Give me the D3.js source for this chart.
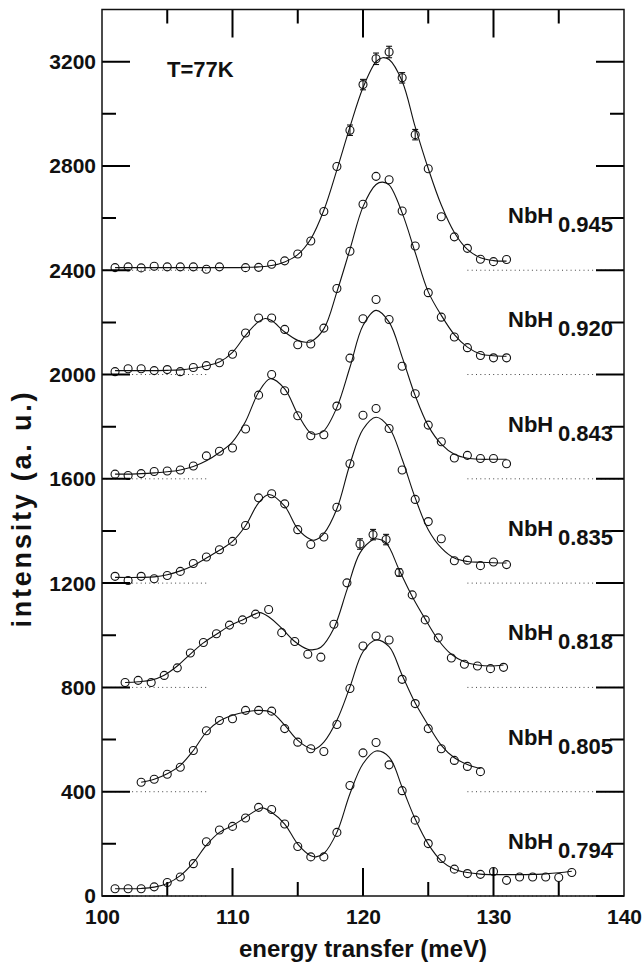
<!DOCTYPE html>
<html>
<head>
<meta charset="utf-8">
<script src="https://cdn.jsdelivr.net/npm/d3@7"></script>
<style>
  body { margin: 0; background: #fff; }
  text { font-family: "Liberation Sans", Arial, Helvetica, sans-serif; font-weight: bold; fill: #111; }
</style>
</head>
<body>
<svg id="chart" width="643" height="967"></svg>
<script>
// sample names and their vertical offsets (a. u.)
const sampleNames = ["0.945", "0.920", "0.843", "0.835", "0.818", "0.805", "0.794"];
const sampleOffsets = [2400, 2000, 1600, 1200, 800, 400, 0];

// measured points [energy meV, intensity]
const pts945 = [[101,2410],[102,2413],[103,2409],[104,2415],[105,2413],[106,2413],[107,2413],[108,2404],[109,2413],
  [111,2410],[112,2411],[113,2423],[114,2436],[115,2462],[116,2512],[117,2625],[118,2798],[119,2937],[120,3112],
  [121,3211],[122,3237],[123,3138],[124,2920],[125,2789],[126,2605],[127,2528],[128,2484],[129,2442],[130,2433],[131,2441]];
const pts920 = [[101,2011],[102,2022],[103,2022],[104,2015],[105,2019],[106,2011],[107,2027],[108,2034],[109,2045],
  [110,2078],[111,2159],[112,2217],[113,2217],[114,2173],[115,2114],[116,2117],[117,2178],[118,2330],[119,2473],
  [120,2653],[121,2760],[122,2747],[123,2627],[124,2493],[125,2314],[126,2220],[127,2144],[128,2103],[129,2073],[130,2064],[131,2064]];
const pts843 = [[101,1618],[102,1613],[103,1620],[104,1628],[105,1630],[106,1634],[107,1649],[108,1688],[109,1706],
  [110,1718],[111,1791],[112,1921],[113,2000],[114,1938],[115,1842],[116,1765],[117,1769],[118,1879],[119,2063],
  [120,2214],[121,2288],[122,2211],[123,2032],[124,1926],[125,1806],[126,1742],[127,1680],[128,1690],[129,1678],[130,1678],[131,1658]];
const pts835 = [[101,1226],[102,1210],[103,1226],[104,1217],[105,1229],[106,1245],[107,1275],[108,1300],[109,1328],
  [110,1360],[111,1421],[112,1527],[113,1543],[114,1504],[115,1405],[116,1348],[117,1377],[118,1491],[119,1658],
  [120,1844],[121,1870],[122,1793],[123,1634],[124,1521],[125,1436],[126,1370],[127,1286],[128,1288],[129,1267],[130,1281],[131,1271]];
const pts818 = [[101.77,819],[102.77,827],[103.77,819],[104.77,846],[105.77,875],[106.77,932],[107.77,972],[108.77,1006],
  [109.77,1039],[110.77,1059],[111.77,1081],[112.77,1099],[113.77,1010],[114.77,976],[115.77,927],[116.77,916],
  [117.77,1042],[118.77,1201],[119.77,1350],[120.77,1386],[121.77,1367],[122.77,1241],[123.77,1155],[124.77,1059],
  [125.77,990],[126.77,913],[127.77,889],[128.77,882],[129.77,872],[130.77,877]];
const pts805 = [[103,436],[104,448],[105,467],[106,494],[107,558],[108,634],[109,673],[110,680],[111,712],[112,712],
  [113,709],[114,642],[115,590],[116,565],[117,554],[118,658],[119,796],[120,959],[121,997],[122,982],[123,831],
  [124,738],[125,642],[126,565],[127,520],[128,497],[129,477]];
const pts794 = [[101,28],[102,28],[103,28],[104,35],[105,52],[106,73],[107,124],[108,208],[109,253],[110,267],
  [111,299],[112,340],[113,332],[114,276],[115,190],[116,150],[117,150],[118,244],[119,424],[120,549],[121,589],
  [122,503],[123,404],[124,291],[125,201],[126,144],[127,103],[128,86],[129,83],[130,94],[131,60],[132,73],
  [133,73],[134,73],[135,71],[136,90]];

// fitted curves [energy meV, intensity]
const fit945 = [[101,2410],[104,2410],[107,2410],[110,2410],[111,2411],[112,2413],[113,2418],[114,2432],[115,2460],
  [116,2520],[117,2630],[118,2785],[119,2950],[120,3100],[121,3200],[121.5,3215],[122,3208],[123,3125],[124,2950],
  [125,2790],[126,2650],[127,2545],[128,2480],[129,2448],[130,2437],[131,2435]];
const fit920 = [[101,2015],[103,2015],[105,2016],[106,2018],[107,2024],[108,2034],[109,2048],[110,2085],[111,2150],
  [112,2203],[112.5,2215],[113,2207],[114,2163],[115,2131],[115.6,2124],[116,2126],[117,2175],[118,2317],[119,2480],
  [120,2644],[121,2729],[121.5,2738],[122,2727],[123,2620],[124,2468],[125,2317],[126,2227],[127,2153],[128,2105],
  [129,2079],[130,2072],[131,2070]];
const fit843 = [[101,1618],[102,1618],[103,1620],[104,1623],[105,1627],[106,1634],[107,1647],[108,1669],[109,1701],
  [110,1742],[111,1820],[112,1932],[112.9,1984],[114,1945],[115,1848],[116,1775],[116.5,1772],[117,1784],[118,1874],
  [119,2028],[120,2188],[121,2246],[122,2201],[123,2067],[124,1919],[125,1803],[126,1733],[127,1694],[128,1679],
  [129,1675],[130,1675],[131,1675]];
const fit835 = [[101,1222],[103,1222],[104,1224],[105,1232],[106,1247],[107,1268],[108,1296],[109,1326],[110,1360],
  [111,1420],[112,1508],[112.8,1540],[114,1495],[115,1408],[116,1367],[116.3,1365],[117,1390],[118,1485],[119,1656],
  [120,1790],[121,1836],[122,1797],[123,1675],[124,1527],[125,1405],[126,1335],[127,1296],[128,1283],[129,1280],
  [130,1278],[131,1277]];
const fit818 = [[101.77,819],[102.77,822],[103.77,828],[104.77,847],[105.77,882],[106.77,928],[107.77,971],
  [108.77,1004],[109.77,1036],[110.77,1059],[111.77,1082],[112.1,1087],[112.77,1071],[113.77,1027],[114.77,976],
  [115.77,946],[116.1,944],[116.77,954],[117.77,1027],[118.77,1174],[119.77,1316],[120.77,1367],[121,1370],
  [121.77,1354],[122.77,1251],[123.77,1149],[124.77,1062],[125.77,982],[126.77,927],[127.77,898],[128.77,886],
  [129.77,882],[130.77,886]];
const fit805 = [[103,436],[104,448],[105,469],[106,501],[107,558],[108,629],[109,671],[110,693],[111,706],[112,712],
  [113,704],[114,655],[115,597],[116,565],[116.3,563],[117,590],[118,674],[119,802],[120,937],[121,982],[122,956],
  [123,847],[124,740],[125,655],[126,578],[127,530],[128,504],[129,488]];
const fit794 = [[101,28],[102,28],[103,29],[104,34],[105,48],[106,78],[107,128],[108,195],[109,244],[110,270],
  [111,302],[112,334],[112.3,338],[113,321],[114,276],[115,199],[116,154],[116.4,150],[117,163],[118,244],[119,392],
  [120,507],[121,556],[122,533],[123,417],[124,295],[125,199],[126,135],[127,103],[128,90],[129,84],[130,82],
  [131,82],[132,82],[133,83],[134,85],[135,89],[136,95]];

// error bars [energy meV, +/- error]
const err945 = [[119,20],[120,20],[121,22],[122,22],[123,20],[124,20]];
const err818 = [[119.77,20],[120.77,20],[121.77,20],[122.77,14]];

const xMajor = [100, 110, 120, 130, 140];
const xMinor = [105, 115, 125, 135];
const yMajor = d3.range(0, 3201, 400);
const yMinor = d3.range(200, 3001, 400);

const series = [
  { name: sampleNames[0], offset: sampleOffsets[0], pts: pts945, fit: fit945, err: err945 },
  { name: sampleNames[1], offset: sampleOffsets[1], pts: pts920, fit: fit920, err: [] },
  { name: sampleNames[2], offset: sampleOffsets[2], pts: pts843, fit: fit843, err: [] },
  { name: sampleNames[3], offset: sampleOffsets[3], pts: pts835, fit: fit835, err: [] },
  { name: sampleNames[4], offset: sampleOffsets[4], pts: pts818, fit: fit818, err: err818 },
  { name: sampleNames[5], offset: sampleOffsets[5], pts: pts805, fit: fit805, err: [] },
  { name: sampleNames[6], offset: sampleOffsets[6], pts: pts794, fit: fit794, err: [] }
];

const svg = d3.select("#chart");
const plotLeft = 102, plotRight = 624, plotTop = 9.5, plotBottom = 896;

const x = d3.scaleLinear().domain([100, 140]).range([plotLeft, plotRight]);
const y = d3.scaleLinear().domain([0, 3400]).range([plotBottom, plotTop]);

// dotted baselines
const baseG = svg.append("g");
series.forEach(s => {
  [[100, 108], [128, 140]].forEach(([a, b]) => {
    baseG.append("line")
      .attr("x1", x(a)).attr("x2", x(b))
      .attr("y1", y(s.offset)).attr("y2", y(s.offset))
      .attr("stroke", "#444").attr("stroke-width", 1)
      .attr("stroke-dasharray", "1,3.3");
  });
});

// fitted curves
const line = d3.line()
  .x(d => x(d[0]))
  .y(d => y(d[1]))
  .curve(d3.curveCatmullRom.alpha(0.5));

const curveG = svg.append("g");
series.forEach(s => {
  curveG.append("path")
    .datum(s.fit)
    .attr("d", line)
    .attr("fill", "none")
    .attr("stroke", "#111")
    .attr("stroke-width", 1.1);
});

// error bars
const errG = svg.append("g").attr("stroke", "#111").attr("stroke-width", 1.1);
series.forEach(s => {
  s.err.forEach(([e, dv]) => {
    const p = s.pts.find(d => Math.abs(d[0] - e) < 0.01);
    if (!p) return;
    errG.append("line").attr("x1", x(e)).attr("x2", x(e)).attr("y1", y(p[1] - dv)).attr("y2", y(p[1] + dv));
    errG.append("line").attr("x1", x(e) - 3).attr("x2", x(e) + 3).attr("y1", y(p[1] - dv)).attr("y2", y(p[1] - dv));
    errG.append("line").attr("x1", x(e) - 3).attr("x2", x(e) + 3).attr("y1", y(p[1] + dv)).attr("y2", y(p[1] + dv));
  });
});

// data circles
const dotG = svg.append("g");
series.forEach(s => {
  dotG.selectAll(null)
    .data(s.pts)
    .join("circle")
    .attr("cx", d => x(d[0]))
    .attr("cy", d => y(d[1]))
    .attr("r", 4)
    .attr("fill", "none")
    .attr("stroke", "#111")
    .attr("stroke-width", 1.1);
});

// tick labels from d3 axes
const yAxisG = svg.append("g")
  .attr("transform", `translate(${plotLeft},0)`)
  .call(d3.axisLeft(y).tickValues(yMajor).tickSize(0).tickPadding(6).tickFormat(d3.format("d")));
yAxisG.select(".domain").remove();
yAxisG.selectAll(".tick text").attr("font-size", 21).attr("fill", "#111").attr("dy", "0.33em");

const xAxisG = svg.append("g")
  .attr("transform", `translate(0,${plotBottom})`)
  .call(d3.axisBottom(x).tickValues(xMajor).tickSize(0).tickPadding(11).tickFormat(d3.format("d")));
xAxisG.select(".domain").remove();
xAxisG.selectAll(".tick text").attr("font-size", 21).attr("fill", "#111").attr("dy", "0.8em");

// inward tick marks on all four sides, one path
const yTicks = yMajor.map(v => [v, 28]).concat(yMinor.map(v => [v, 14]));
const xTicks = xMajor.slice(1, -1).map(v => [v, 28]).concat(xMinor.map(v => [v, 14]));
let tickPath = "";
yTicks.forEach(([v, len]) => {
  const py = y(v);
  tickPath += `M${plotLeft},${py}H${plotLeft + len}M${plotRight},${py}H${plotRight - len}`;
});
xTicks.forEach(([v, len]) => {
  const px = x(v);
  tickPath += `M${px},${plotBottom}V${plotBottom - len}M${px},${plotTop}V${plotTop + len}`;
});
svg.append("path")
  .attr("d", tickPath)
  .attr("fill", "none")
  .attr("stroke", "#000")
  .attr("stroke-width", 2);

// frame
svg.append("rect")
  .attr("x", plotLeft).attr("y", plotTop)
  .attr("width", plotRight - plotLeft).attr("height", plotBottom - plotTop)
  .attr("fill", "none").attr("stroke", "#111").attr("stroke-width", 1.5);

// sample labels at the right
const labG = svg.append("g");
series.forEach(s => {
  const ty = y(s.offset + 200);
  labG.append("text").attr("x", 508).attr("y", ty + 5).attr("font-size", 22).text("NbH");
  labG.append("text").attr("x", 613).attr("y", ty + 14).attr("font-size", 22)
    .attr("text-anchor", "end").text(s.name);
});

// temperature note
svg.append("text").attr("x", 167).attr("y", 77).attr("font-size", 22).text("T=77K");

// axis titles
svg.append("text")
  .attr("x", (plotLeft + plotRight) / 2).attr("y", 957)
  .attr("text-anchor", "middle").attr("font-size", 24)
  .text("energy transfer (meV)");
svg.append("text")
  .attr("transform", "translate(31,510) rotate(-90)")
  .attr("text-anchor", "middle").attr("font-size", 27)
  .attr("textLength", 235).attr("lengthAdjust", "spacing")
  .text("intensity (a. u.)");
</script>
</body>
</html>
